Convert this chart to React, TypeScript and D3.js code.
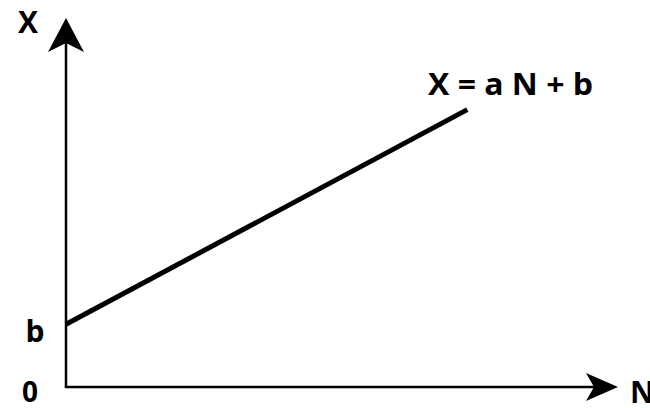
import React from "react";
import * as d3 from "d3";

const nValues = [0, 7.27];
const bValue = 1.7;
const slopeA = 0.8;
const xDomain = [0, 10];
const yDomain = [0, 10];
const labels = { yAxis: "X", xAxis: "N", origin: "0", intercept: "b", formula: "X = a N + b" };

export default function App() {
  const W = 650, H = 408;
  const x = d3.scaleLinear().domain(xDomain).range([66, 618]);
  const y = d3.scaleLinear().domain(yDomain).range([387, 18]);
  const pts = nValues.map((n) => [n, slopeA * n + bValue] as [number, number]);
  const line = d3.line<[number, number]>().x((d) => x(d[0])).y((d) => y(d[1]));
  const x0 = x(0), y0 = y(0), yTop = y(10), xEnd = x(10);
  const font = "'Open Sans', 'DejaVu Sans', sans-serif";
  return (
    <svg width={W} height={H} style={{ position: "absolute", left: 0, top: 0 }}>
      <rect width={W} height={H} fill="#fff" />
      <line x1={x0} y1={y0} x2={x0} y2={yTop + 20} stroke="#000" strokeWidth={2.5} />
      <line x1={x0 - 1.25} y1={y0} x2={xEnd - 20} y2={y0} stroke="#000" strokeWidth={2.5} />
      <path d={`M${x0},${yTop} L${x0 + 18},${yTop + 34} L${x0},${yTop + 25} L${x0 - 18},${yTop + 34} Z`} fill="#000" />
      <path d={`M${xEnd},${y0} L${xEnd - 32},${y0 - 14} L${xEnd - 24},${y0} L${xEnd - 32},${y0 + 14} Z`} fill="#000" />
      <path d={line(pts) || ""} stroke="#000" strokeWidth={5} fill="none" />
      <g fontFamily={font} fontWeight="bold" fill="#000">
        <text x={28} y={33} fontSize={30} textAnchor="middle">{labels.yAxis}</text>
        <text x={35} y={342} fontSize={30} textAnchor="middle">{labels.intercept}</text>
        <text x={30} y={402} fontSize={28} textAnchor="middle">{labels.origin}</text>
        <text x={630} y={403} fontSize={30}>{labels.xAxis}</text>
        <text x={428} y={95} fontSize={30} textLength={165} lengthAdjust="spacingAndGlyphs">{labels.formula}</text>
      </g>
    </svg>
  );
}
